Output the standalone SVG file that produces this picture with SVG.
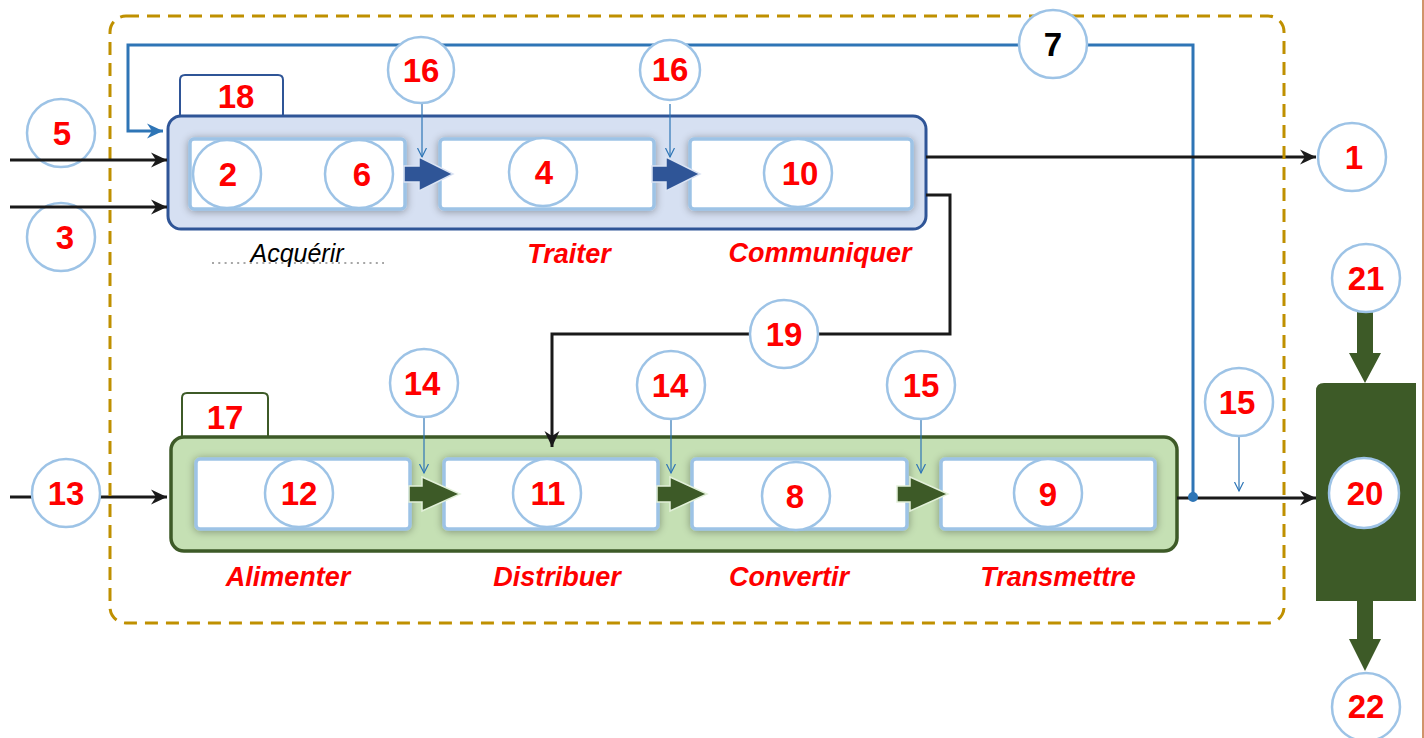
<svg xmlns="http://www.w3.org/2000/svg" width="1424" height="738" viewBox="0 0 1424 738">
<defs>
<style>
.num{font-family:"Liberation Sans",Arial,sans-serif;font-weight:bold;font-size:33px;fill:#FF0000;text-anchor:middle}
.lbl{font-family:"Liberation Sans",Arial,sans-serif;font-weight:bold;font-style:italic;font-size:27px;fill:#FF0000;text-anchor:middle}
.circ{fill:#FFFFFF;stroke:#9DC3E6;stroke-width:2.5}
.inner{fill:#FFFFFF;stroke:#9DC3E6;stroke-width:3.5}
.blk{fill:none;stroke:#1A1A1A;stroke-width:3}
.blue{fill:none;stroke:#2E75B6;stroke-width:3}
.thin{fill:none;stroke:#2E75B6;stroke-width:1.2}
.barB{fill:#2F5597;stroke:#DAE3F3;stroke-width:1.5}
.barG{fill:#3D5A27;stroke:#E2F0D9;stroke-width:1.5}
</style>
<marker id="ak" markerUnits="userSpaceOnUse" markerWidth="18" markerHeight="16" refX="16" refY="8" orient="auto">
<path d="M0,0.5 L16,8 L0,15.5 L5,8 z" fill="#1A1A1A"/>
</marker>
<marker id="ab" markerUnits="userSpaceOnUse" markerWidth="18" markerHeight="16" refX="16" refY="8" orient="auto">
<path d="M0,0.5 L16,8 L0,15.5 L5,8 z" fill="#2E75B6"/>
</marker>
<marker id="av" markerUnits="userSpaceOnUse" markerWidth="12" markerHeight="12" refX="9" refY="5" orient="auto">
<path d="M0,0.5 L9,5 L0,9.5" fill="none" stroke="#2E75B6" stroke-width="1.2"/>
</marker>
<filter id="sh" x="-10%" y="-25%" width="120%" height="150%">
<feGaussianBlur in="SourceAlpha" stdDeviation="4"/>
<feOffset dx="0" dy="1"/>
<feComponentTransfer><feFuncA type="linear" slope="0.35"/></feComponentTransfer>
<feMerge><feMergeNode/><feMergeNode in="SourceGraphic"/></feMerge>
</filter>
</defs>

<rect x="0" y="0" width="1424" height="738" fill="#FFFFFF"/>
<line x1="1423" y1="0" x2="1423" y2="738" stroke="#C0703A" stroke-width="1.5"/>

<!-- container groups -->
<g id="acquisition-chain">
<path d="M180,116 L180,80 Q180,75 185,75 L278,75 Q283,75 283,80 L283,116" fill="#FFFFFF" stroke="#2F5597" stroke-width="2"/>
<text class="num" x="236" y="108">18</text>
<rect x="168" y="116" width="758" height="113" rx="13" fill="#D6E0F2" stroke="#2F5597" stroke-width="3"/>
</g>
<g id="energy-chain">
<path d="M182,437 L182,398 Q182,393 187,393 L263,393 Q268,393 268,398 L268,437" fill="#FFFFFF" stroke="#3D5A27" stroke-width="2"/>
<text class="num" x="225" y="429">17</text>
<rect x="171" y="437" width="1006" height="114" rx="13" fill="#C5E0B4" stroke="#3D5A27" stroke-width="3.5"/>
</g>

<!-- connectors -->
<g id="connectors">
<polyline class="blue" points="1193,497 1193,45 128,45 128,131 163,131" marker-end="url(#ab)"/>
<line class="blk" x1="926" y1="157" x2="1316" y2="157" marker-end="url(#ak)"/>
<polyline class="blk" points="926,195 950,195 950,334 552,334 552,447" marker-end="url(#ak)"/>
<line class="blk" x1="10" y1="497" x2="167" y2="497" marker-end="url(#ak)"/>
<line class="blk" x1="1177" y1="498" x2="1316" y2="498" marker-end="url(#ak)"/>
<circle cx="1193" cy="497" r="5" fill="#2E75B6"/>
<line class="thin" x1="422" y1="103" x2="422" y2="157" marker-end="url(#av)"/>
<line class="thin" x1="670" y1="104" x2="670" y2="157" marker-end="url(#av)"/>
<line class="thin" x1="424" y1="417" x2="424" y2="473" marker-end="url(#av)"/>
<line class="thin" x1="671" y1="418" x2="671" y2="473" marker-end="url(#av)"/>
<line class="thin" x1="921" y1="418" x2="921" y2="473" marker-end="url(#av)"/>
<line class="thin" x1="1239" y1="436" x2="1239" y2="491" marker-end="url(#av)"/>
<polygon points="1357,312 1373,312 1373,353 1381,353 1365,383 1349,353 1357,353" fill="#3D5A27"/>
<polygon points="1357,600 1373,600 1373,639 1381,639 1365,671 1349,639 1357,639" fill="#3D5A27"/>
</g>

<!-- dashed frame -->
<rect x="110" y="16" width="1174" height="607" rx="16" fill="none" stroke="#BF9000" stroke-width="3" stroke-dasharray="13 8"/>

<!-- inner function boxes -->
<g id="box-acquerir">
<rect class="inner" x="190" y="139" width="215" height="70" rx="4" filter="url(#sh)"/>
<circle class="circ" cx="227" cy="174" r="34"/><text class="num" x="228" y="186">2</text>
<circle class="circ" cx="359" cy="174" r="34"/><text class="num" x="362" y="186">6</text>
</g>
<g id="box-traiter">
<rect class="inner" x="440" y="139" width="214" height="70" rx="4" filter="url(#sh)"/>
<circle class="circ" cx="543" cy="172" r="34"/><text class="num" x="544" y="184">4</text>
</g>
<g id="box-communiquer">
<rect class="inner" x="690" y="139" width="222" height="70" rx="4" filter="url(#sh)"/>
<circle class="circ" cx="798" cy="173" r="34"/><text class="num" x="800" y="185">10</text>
</g>
<g id="box-alimenter">
<rect class="inner" x="196" y="459" width="214" height="70" rx="4" filter="url(#sh)"/>
<circle class="circ" cx="299" cy="493" r="34"/><text class="num" x="299" y="505">12</text>
</g>
<g id="box-distribuer">
<rect class="inner" x="444" y="459" width="214" height="70" rx="4" filter="url(#sh)"/>
<circle class="circ" cx="547" cy="493" r="34"/><text class="num" x="548" y="505">11</text>
</g>
<g id="box-convertir">
<rect class="inner" x="692" y="459" width="215" height="70" rx="4" filter="url(#sh)"/>
<circle class="circ" cx="796" cy="496" r="34"/><text class="num" x="795" y="508">8</text>
</g>
<g id="box-transmettre">
<rect class="inner" x="941" y="459" width="214" height="70" rx="4" filter="url(#sh)"/>
<circle class="circ" cx="1048" cy="493" r="34"/><text class="num" x="1048" y="506">9</text>
</g>

<!-- block arrows between functions -->
<g id="flow-arrows">
<polygon class="barB" points="404,166 419,166 419,157 453,174 419,191 419,182 404,182"/>
<polygon class="barB" points="652,166 666,166 666,157 700,174 666,191 666,182 652,182"/>
<polygon class="barG" points="409,486 422,486 422,477 460,494 422,511 422,502 409,502"/>
<polygon class="barG" points="657,486 670,486 670,477 707,494 670,511 670,502 657,502"/>
<polygon class="barG" points="897,486 910,486 910,477 948,494 910,511 910,502 897,502"/>
</g>

<!-- labels -->
<g id="labels">
<line x1="212" y1="263" x2="384" y2="263" stroke="#A6A6A6" stroke-width="2" stroke-dasharray="2 4.3"/>
<text x="297" y="262" font-family="Liberation Sans, Arial, sans-serif" font-style="italic" font-size="25" fill="#000000" text-anchor="middle">Acquérir</text>
<text class="lbl" x="569" y="263">Traiter</text>
<text class="lbl" x="820" y="262">Communiquer</text>
<text class="lbl" x="288" y="586">Alimenter</text>
<text class="lbl" x="557" y="586">Distribuer</text>
<text class="lbl" x="789" y="586">Convertir</text>
<text class="lbl" x="1058" y="586">Transmettre</text>
</g>

<!-- external / annotation nodes -->
<g id="n5"><circle class="circ" cx="61" cy="133" r="34"/><text class="num" x="62" y="145">5</text></g>
<g id="n3"><circle class="circ" cx="61" cy="237" r="34"/><text class="num" x="65" y="249">3</text></g>
<g id="inputs">
<line class="blk" x1="10" y1="160" x2="167" y2="160" marker-end="url(#ak)"/>
<line class="blk" x1="10" y1="207" x2="167" y2="207" marker-end="url(#ak)"/>
</g>
<g id="n13"><circle class="circ" cx="66" cy="493" r="34"/><text class="num" x="66" y="505">13</text></g>
<g id="n1"><circle class="circ" cx="1352" cy="157" r="34"/><text class="num" x="1354" y="169">1</text></g>
<g id="n7"><circle class="circ" cx="1053" cy="44" r="34"/><text class="num" x="1053" y="56" style="fill:#000000">7</text></g>
<g id="n16a"><circle class="circ" cx="421" cy="70" r="33"/><text class="num" x="421" y="82">16</text></g>
<g id="n16b"><circle class="circ" cx="670" cy="70" r="30"/><text class="num" x="670" y="81">16</text></g>
<g id="n19"><circle class="circ" cx="784" cy="334" r="34"/><text class="num" x="784" y="346">19</text></g>
<g id="n14a"><circle class="circ" cx="424" cy="383" r="34"/><text class="num" x="422" y="395">14</text></g>
<g id="n14b"><circle class="circ" cx="671" cy="385" r="34"/><text class="num" x="670" y="397">14</text></g>
<g id="n15a"><circle class="circ" cx="921" cy="385" r="34"/><text class="num" x="921" y="397">15</text></g>
<g id="n15b"><circle class="circ" cx="1239" cy="402" r="34"/><text class="num" x="1237" y="414">15</text></g>
<g id="n20">
<path d="M1316,391 Q1316,383 1324,383 L1416,383 L1416,601 L1316,601 z" fill="#3D5A27"/>
<circle class="circ" cx="1364" cy="493" r="35"/><text class="num" x="1365" y="505">20</text>
</g>
<g id="n21"><circle class="circ" cx="1366" cy="278" r="34"/><text class="num" x="1366" y="290">21</text></g>
<g id="n22"><circle class="circ" cx="1366" cy="707" r="34"/><text class="num" x="1366" y="718">22</text></g>
</svg>
